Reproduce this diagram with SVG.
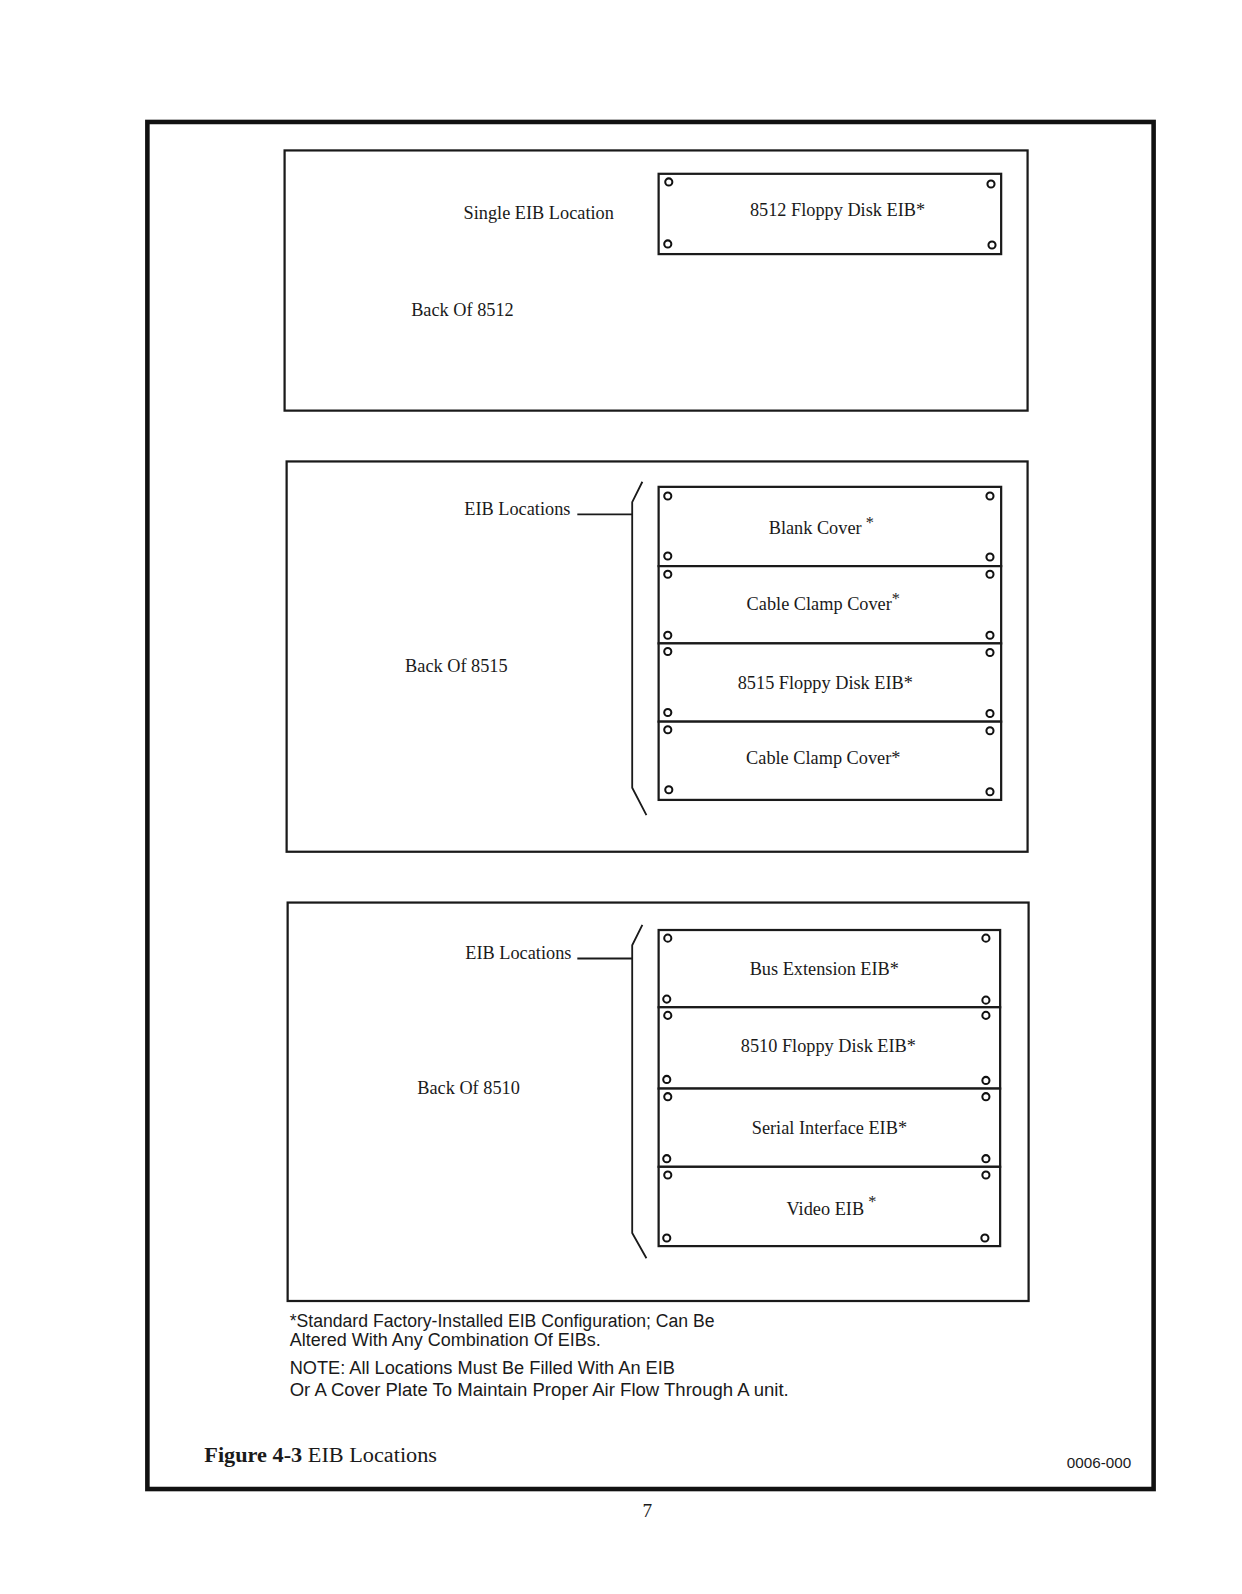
<svg xmlns="http://www.w3.org/2000/svg" width="1242" height="1594" viewBox="0 0 1242 1594">
<style>
.frame{fill:none;stroke:#111;stroke-width:4.5}
.box{fill:none;stroke:#1a1a1a;stroke-width:2.2}
.panel{fill:#fff;stroke:#1a1a1a;stroke-width:2.2}
.screw{fill:#fff;stroke:#111;stroke-width:2}
.ln{fill:none;stroke:#1a1a1a;stroke-width:1.8}
text{font-family:"Liberation Serif","DejaVu Serif",serif;fill:#1a1a1a}
.lbl{font-size:18px;text-anchor:middle}
.note{font-size:17.5px;font-family:"Liberation Sans","DejaVu Sans",sans-serif}
.sup{font-size:16px}
</style>
<rect width="1242" height="1594" fill="#fff"/>
<g transform="scale(1.0164)">
<rect class="frame" x="145" y="120" width="990" height="1345"/>

<!-- Section 1 -->
<g id="back8512">
<rect class="box" x="280" y="148" width="731" height="256"/>
<text class="lbl" x="530" y="215">Single EIB Location</text>
<text class="lbl" x="455" y="311">Back Of 8512</text>
</g>
<g id="eib8512">
<rect class="panel" x="648" y="171" width="337" height="79"/>
<circle class="screw" cx="658" cy="179" r="3.5"/>
<circle class="screw" cx="975" cy="181" r="3.5"/>
<circle class="screw" cx="657" cy="240" r="3.5"/>
<circle class="screw" cx="976" cy="241" r="3.5"/>
<text class="lbl" x="824" y="213">8512 Floppy Disk EIB*</text>
</g>

<!-- Section 2 -->
<g id="back8515">
<rect class="box" x="282" y="454" width="729" height="384"/>
<text class="lbl" x="509" y="507">EIB Locations</text>
<text class="lbl" x="449" y="661">Back Of 8515</text>
</g>
<g id="blankcover">
<rect class="panel" x="648" y="479" width="337" height="78"/>
<text class="lbl" x="808" y="525">Blank Cover<tspan class="sup" dy="-6"> *</tspan></text>
</g>
<g id="cableclamp1">
<rect class="panel" x="648" y="557" width="337" height="76"/>
<text class="lbl" x="810" y="600">Cable Clamp Cover<tspan class="sup" dy="-6">*</tspan></text>
</g>
<g id="floppy8515">
<rect class="panel" x="648" y="633" width="337" height="77"/>
<text class="lbl" x="812" y="678">8515 Floppy Disk EIB*</text>
</g>
<g id="cableclamp2">
<rect class="panel" x="648" y="710" width="337" height="77"/>
<text class="lbl" x="810" y="752">Cable Clamp Cover*</text>
</g>
<g id="screws8515">
<circle class="screw" cx="657" cy="488" r="3.5"/><circle class="screw" cx="974" cy="488" r="3.5"/>
<circle class="screw" cx="657" cy="547" r="3.5"/><circle class="screw" cx="974" cy="548" r="3.5"/>
<circle class="screw" cx="657" cy="565" r="3.5"/><circle class="screw" cx="974" cy="565" r="3.5"/>
<circle class="screw" cx="657" cy="625" r="3.5"/><circle class="screw" cx="974" cy="625" r="3.5"/>
<circle class="screw" cx="657" cy="641" r="3.5"/><circle class="screw" cx="974" cy="642" r="3.5"/>
<circle class="screw" cx="657" cy="701" r="3.5"/><circle class="screw" cx="974" cy="702" r="3.5"/>
<circle class="screw" cx="657" cy="718" r="3.5"/><circle class="screw" cx="974" cy="719" r="3.5"/>
<circle class="screw" cx="658" cy="777" r="3.5"/><circle class="screw" cx="974" cy="779" r="3.5"/>
</g>

<!-- Section 3 -->
<g id="back8510">
<rect class="box" x="283" y="888" width="729" height="392"/>
<text class="lbl" x="510" y="944">EIB Locations</text>
<text class="lbl" x="461" y="1076">Back Of 8510</text>
</g>
<g id="busext">
<rect class="panel" x="648" y="915" width="336" height="76"/>
<text class="lbl" x="811" y="959">Bus Extension EIB*</text>
</g>
<g id="floppy8510">
<rect class="panel" x="648" y="991" width="336" height="80"/>
<text class="lbl" x="815" y="1035">8510 Floppy Disk EIB*</text>
</g>
<g id="serial">
<rect class="panel" x="648" y="1071" width="336" height="77"/>
<text class="lbl" x="816" y="1116">Serial Interface EIB*</text>
</g>
<g id="video">
<rect class="panel" x="648" y="1148" width="336" height="78"/>
<text class="lbl" x="818" y="1195">Video EIB<tspan class="sup" dy="-7"> *</tspan></text>
</g>
<g id="screws8510">
<circle class="screw" cx="657" cy="923" r="3.5"/><circle class="screw" cx="970" cy="923" r="3.5"/>
<circle class="screw" cx="656" cy="983" r="3.5"/><circle class="screw" cx="970" cy="984" r="3.5"/>
<circle class="screw" cx="657" cy="999" r="3.5"/><circle class="screw" cx="970" cy="999" r="3.5"/>
<circle class="screw" cx="656" cy="1062" r="3.5"/><circle class="screw" cx="970" cy="1063" r="3.5"/>
<circle class="screw" cx="657" cy="1079" r="3.5"/><circle class="screw" cx="970" cy="1079" r="3.5"/>
<circle class="screw" cx="656" cy="1140" r="3.5"/><circle class="screw" cx="970" cy="1140" r="3.5"/>
<circle class="screw" cx="657" cy="1156" r="3.5"/><circle class="screw" cx="970" cy="1156" r="3.5"/>
<circle class="screw" cx="656" cy="1218" r="3.5"/><circle class="screw" cx="969" cy="1218" r="3.5"/>
</g>

<!-- Connectors / brackets -->
<g id="connectors">
<line class="ln" x1="568" y1="506" x2="622" y2="506"/>
<polyline class="ln" points="632,474 622,494 622,775 636,802"/>
<line class="ln" x1="568" y1="943" x2="622" y2="943"/>
<polyline class="ln" points="632,910 622,930 622,1213 636,1238"/>
</g>

<!-- Notes -->
<g id="notes">
<text class="note" x="285" y="1306" textLength="418" lengthAdjust="spacingAndGlyphs">*Standard Factory-Installed EIB Configuration; Can Be</text>
<text class="note" x="285" y="1324" textLength="306" lengthAdjust="spacingAndGlyphs">Altered With Any Combination Of EIBs.</text>
<text class="note" x="285" y="1352" textLength="379" lengthAdjust="spacingAndGlyphs">NOTE: All Locations Must Be Filled With An EIB</text>
<text class="note" x="285" y="1373" textLength="491" lengthAdjust="spacingAndGlyphs">Or A Cover Plate To Maintain Proper Air Flow Through A unit.</text>
</g>
<g id="caption">
<text x="201" y="1438" style="font-size:21px" textLength="229" lengthAdjust="spacingAndGlyphs"><tspan font-weight="bold">Figure 4-3</tspan> EIB Locations</text>
<text x="1113" y="1444" style="font-size:15px;font-family:'Liberation Sans Narrow','Liberation Sans',sans-serif;text-anchor:end">0006-000</text>
<text x="637" y="1493" style="font-size:19px;text-anchor:middle">7</text>
</g>
</g>
</svg>
